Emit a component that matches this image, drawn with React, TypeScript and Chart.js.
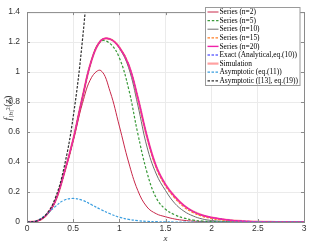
import React, { useEffect, useRef } from 'react';
import { Chart, registerables } from 'chart.js';

Chart.register(...registerables);

// x grid
const xValues = [0, 0.1, 0.2, 0.3, 0.4, 0.5, 0.6, 0.7, 0.8, 0.9, 1.0, 1.1, 1.2, 1.3, 1.4, 1.5, 1.6, 1.7, 1.8, 1.9, 2.0, 2.1, 2.2, 2.3, 2.4, 2.5, 2.6, 2.7, 2.8, 2.9, 3.0];

const seriesN2 = [0, 0.004, 0.04, 0.13, 0.32, 0.54, 0.79, 0.965, 1.01, 0.87, 0.64, 0.40, 0.21, 0.10, 0.055, 0.035, 0.02, 0.011, 0.006, 0.003, 0.001, 0, 0, 0, 0, 0, 0, 0, 0, 0, 0];
const seriesN5 = [0, 0.004, 0.04, 0.13, 0.32, 0.55, 0.83, 1.08, 1.205, 1.19, 1.095, 0.89, 0.59, 0.33, 0.16, 0.085, 0.048, 0.026, 0.013, 0.006, 0.003, 0.001, 0, 0, 0, 0, 0, 0, 0, 0, 0];
const seriesN10 = [0, 0.004, 0.04, 0.13, 0.32, 0.55, 0.83, 1.08, 1.21, 1.22, 1.16, 1.03, 0.78, 0.50, 0.32, 0.21, 0.125, 0.072, 0.04, 0.02, 0.01, 0.005, 0.002, 0.001, 0, 0, 0, 0, 0, 0, 0];
const seriesN15 = [0, 0.004, 0.04, 0.13, 0.32, 0.55, 0.83, 1.08, 1.21, 1.22, 1.165, 1.05, 0.82, 0.56, 0.36, 0.24, 0.16, 0.10, 0.062, 0.038, 0.023, 0.014, 0.008, 0.004, 0.002, 0.001, 0, 0, 0, 0, 0];
const seriesN20 = [0, 0.004, 0.04, 0.13, 0.32, 0.55, 0.83, 1.08, 1.21, 1.22, 1.165, 1.05, 0.83, 0.57, 0.37, 0.25, 0.17, 0.11, 0.07, 0.045, 0.03, 0.02, 0.012, 0.007, 0.004, 0.002, 0.001, 0, 0, 0, 0];
const exactValues = [0, 0.004, 0.04, 0.13, 0.32, 0.55, 0.83, 1.08, 1.21, 1.22, 1.165, 1.05, 0.83, 0.57, 0.37, 0.25, 0.17, 0.11, 0.07, 0.045, 0.03, 0.02, 0.012, 0.007, 0.004, 0.002, 0.001, 0, 0, 0, 0];
const simulationValues = [0, 0.004, 0.04, 0.13, 0.32, 0.55, 0.83, 1.08, 1.21, 1.22, 1.165, 1.05, 0.83, 0.57, 0.37, 0.25, 0.17, 0.11, 0.07, 0.045, 0.03, 0.02, 0.012, 0.007, 0.004, 0.002, 0.001, 0, 0, 0, 0];
const asymptotic11 = [0, 0.008, 0.045, 0.10, 0.145, 0.157, 0.145, 0.115, 0.083, 0.055, 0.032, 0.018, 0.009, 0.004, 0.002, 0.001, 0, 0, 0, 0, 0, 0, 0, 0, 0, 0, 0, 0, 0, 0, 0];
const asymptotic13 = [0, 0.006, 0.045, 0.15, 0.36, 0.70, 1.21, 1.92, null, null, null, null, null, null, null, null, null, null, null, null, null, null, null, null, null, null, null, null, null, null, null];

const seriesLabels = [
  'Series (n=2)',
  'Series (n=5)',
  'Series (n=10)',
  'Series (n=15)',
  'Series (n=20)',
  'Exact (Analytical,eq.(10))',
  'Simulation',
  'Asymptotic (eq.(11))',
  'Asymptotic ([13], eq.(19))',
];

const xTicks = [0, 0.5, 1, 1.5, 2, 2.5, 3];
const yTicks = [0, 0.2, 0.4, 0.6, 0.8, 1, 1.2, 1.4];

const toPoints = (vals: (number | null)[]) => xValues.map((x, i) => ({ x, y: vals[i] }));

const overlayPlugin = {
  id: 'overlay',
  afterDraw(chart: any) {
    const { ctx, chartArea: a, scales } = chart;
    ctx.save();
    // box top/right
    ctx.strokeStyle = '#8a8a8a';
    ctx.lineWidth = 1;
    ctx.beginPath();
    ctx.moveTo(a.left, a.top + 0.5);
    ctx.lineTo(a.right + 0.5, a.top + 0.5);
    ctx.lineTo(a.right + 0.5, a.bottom);
    ctx.stroke();
    // inward ticks
    ctx.beginPath();
    xTicks.forEach((v) => {
      const px = Math.round(scales.x.getPixelForValue(v)) + 0.5;
      ctx.moveTo(px, a.bottom);
      ctx.lineTo(px, a.bottom - 3);
      ctx.moveTo(px, a.top);
      ctx.lineTo(px, a.top + 3);
    });
    yTicks.forEach((v) => {
      const py = Math.round(scales.y.getPixelForValue(v)) + 0.5;
      ctx.moveTo(a.left, py);
      ctx.lineTo(a.left + 3, py);
      ctx.moveTo(a.right, py);
      ctx.lineTo(a.right - 3, py);
    });
    ctx.stroke();

    // legend
    const lx = 205.5, ly = 7.5, lw = 94.5, lh = 78;
    ctx.fillStyle = '#ffffff';
    ctx.fillRect(lx, ly, lw, lh);
    ctx.strokeStyle = '#9a9a9a';
    ctx.lineWidth = 1;
    ctx.setLineDash([]);
    ctx.strokeRect(lx, ly, lw, lh);
    ctx.font = "7.4px 'Liberation Serif', 'Times New Roman', serif";
    ctx.textBaseline = 'middle';
    ctx.textAlign = 'left';
    chart.data.datasets.forEach((ds: any, i: number) => {
      const y = 12 + i * 8.6;
      ctx.save();
      ctx.strokeStyle = ds.borderColor;
      ctx.lineWidth = ds.borderWidth;
      ctx.setLineDash(ds.borderDash || []);
      ctx.beginPath();
      ctx.moveTo(207.5, y);
      ctx.lineTo(218.5, y);
      ctx.stroke();
      ctx.restore();
      ctx.fillStyle = '#000000';
      ctx.fillText(ds.label, 219.5, y + 0.3);
    });

    // x title
    ctx.fillStyle = '#333333';
    ctx.font = "italic 9px 'Liberation Serif', serif";
    ctx.textAlign = 'center';
    ctx.textBaseline = 'middle';
    ctx.fillText('x', (a.left + a.right) / 2, 238.5);

    // y title f_{|h|^2}(z)
    ctx.save();
    ctx.translate(7.5, 108);
    ctx.rotate(-Math.PI / 2);
    ctx.textAlign = 'left';
    ctx.textBaseline = 'alphabetic';
    const big = "italic 10px 'Liberation Serif', serif";
    const small = "italic 7px 'Liberation Serif', serif";
    const tiny = "5.5px 'Liberation Serif', serif";
    const up = "10px 'Liberation Serif', serif";
    const parts: [string, string, number][] = [
      ['f', big, 0],
      ['|h|', small, 2.2],
      ['2', tiny, -0.5],
      ['(', up, 0],
      ['z', big, 0],
      [')', up, 0],
    ];
    let total = 0;
    parts.forEach(([t, f]) => { ctx.font = f; total += ctx.measureText(t).width + 0.3; });
    let cx = -total / 2;
    parts.forEach(([t, f, dy]) => {
      ctx.font = f;
      ctx.fillText(t, cx, 3 + dy);
      cx += ctx.measureText(t).width + 0.3;
    });
    ctx.restore();
    ctx.restore();
  },
};

export default function App() {
  const ref = useRef<HTMLCanvasElement>(null);
  useEffect(() => {
    document.body.style.margin = '0';
    const mk = (label: string, vals: (number | null)[], color: string, width: number, dash: number[], order: number) => ({
      label,
      data: toPoints(vals),
      borderColor: color,
      backgroundColor: color,
      borderWidth: width,
      borderDash: dash,
      pointRadius: 0,
      tension: 0.4,
      fill: false,
      order,
    });
    const chart = new Chart(ref.current as HTMLCanvasElement, {
      type: 'line',
      data: {
        datasets: [
          mk(seriesLabels[0], seriesN2, '#c8284a', 1, [], 7),
          mk(seriesLabels[1], seriesN5, '#3a9a3a', 1.2, [2.5, 1.8], 5),
          mk(seriesLabels[2], seriesN10, '#6e6e6e', 1, [], 6),
          mk(seriesLabels[3], seriesN15, '#ff7f27', 1.2, [2.5, 1.5], 4),
          mk(seriesLabels[4], seriesN20, '#f022a8', 1.4, [], 3),
          mk(seriesLabels[5], exactValues, '#2020ff', 1, [2.5, 1.5], 8),
          mk(seriesLabels[6], simulationValues, '#ffa0a0', 2.2, [], 9),
          mk(seriesLabels[7], asymptotic11, '#3a9ee0', 1.2, [2.5, 1.5], 2),
          mk(seriesLabels[8], asymptotic13, '#303030', 1.2, [2.5, 1.5], 1),
        ] as any,
      },
      options: {
        animation: false,
        responsive: false,
        devicePixelRatio: 1,
        layout: { padding: { top: 5, right: 15, left: 0, bottom: 0 } },
        plugins: { legend: { display: false }, tooltip: { enabled: false } },
        scales: {
          x: {
            type: 'linear',
            min: 0,
            max: 3,
            afterBuildTicks: (s: any) => { s.ticks = xTicks.map((v) => ({ value: v })); },
            afterFit: (s: any) => { s.height = 27; },
            ticks: {
              color: '#333333',
              padding: 2,
              maxRotation: 0,
              autoSkip: false,
              font: { family: "'Liberation Sans', Arial, sans-serif", size: 8.5 },
              callback: (v: any) => String(Number(v)),
            },
            grid: { color: '#ebebeb', drawTicks: false },
            border: { color: '#8a8a8a' },
          },
          y: {
            type: 'linear',
            min: 0,
            max: 1.4,
            afterBuildTicks: (s: any) => { s.ticks = yTicks.map((v) => ({ value: v })); },
            afterFit: (s: any) => { s.width = 27; },
            ticks: {
              color: '#333333',
              padding: 7,
              autoSkip: false,
              font: { family: "'Liberation Sans', Arial, sans-serif", size: 8.5 },
              callback: (v: any) => String(Number(Number(v).toFixed(1))),
            },
            grid: { color: '#ebebeb', drawTicks: false },
            border: { color: '#8a8a8a' },
          },
        },
      },
      plugins: [overlayPlugin],
    });
    return () => chart.destroy();
  }, []);
  return (
    <div style={{ width: 319, height: 249 }}>
      <canvas ref={ref} width={319} height={249} style={{ display: 'block' }} />
    </div>
  );
}
